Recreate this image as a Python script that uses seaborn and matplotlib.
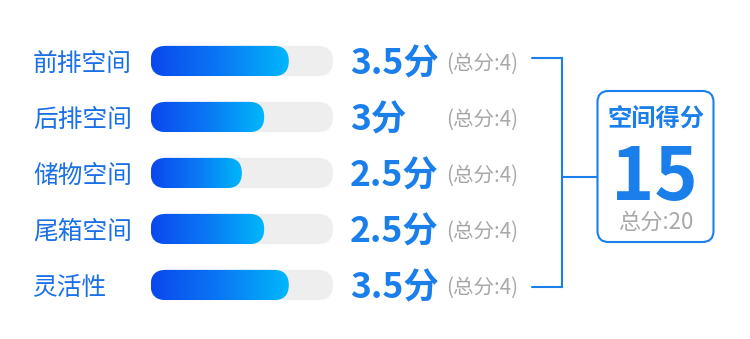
import numpy as np
import pandas as pd
import matplotlib
matplotlib.use("Agg")
import matplotlib.pyplot as plt
import matplotlib.transforms as mtransforms
from matplotlib.patches import FancyBboxPatch
import seaborn as sns

# ---- data ----
categories = ["前排空间", "后排空间", "储物空间", "尾箱空间", "灵活性"]
scores = [3.5, 3, 2.5, 2.5, 3.5]            # printed score
score_labels = ["3.5分", "3分", "2.5分", "2.5分", "3.5分"]
bar_values = [3.03, 2.49, 2.0, 2.49, 3.03]  # bar length as drawn (max 4)
max_score = 4
total_label = "(总分:4)"
box_title = "空间得分"
box_value = "15"
box_total = "总分:20"

sns.set_theme(style="white")
plt.rcParams['font.family'] = ['Noto Sans CJK SC', 'DejaVu Sans']

BLUE = "#1a7fea"
LABEL_BLUE = "#1a70e6"
GRAY_TXT = "#a8a8a8"
TRACK = "#eeeeee"
W, H = 750, 339
fig = plt.figure(figsize=(W / 100, H / 100), dpi=100)
fig.patch.set_facecolor("white")

# overlay axes in pixel coordinates for decorations
ov = fig.add_axes([0, 0, 1, 1])
ov.set_xlim(0, W)
ov.set_ylim(H, 0)
ov.axis("off")

# bar axes: x 0..4 spans pixels 150.7..333, rows centred at 61..285
x0p, x1p = 150.7, 333.0
top_p, bot_p = 33.0, 313.0
ax = fig.add_axes([x0p / W, (H - bot_p) / H, (x1p - x0p) / W, (bot_p - top_p) / H])
ax.set_zorder(2)
ax.patch.set_alpha(0)

df = pd.DataFrame({"cat": categories, "val": bar_values,
                   "track": [max_score] * len(categories)})
sns.barplot(data=df, x="track", y="cat", color=TRACK, width=0.54, ax=ax,
            orient="h")
sns.barplot(data=df, x="val", y="cat", color="#0a4ff0", width=0.54, ax=ax,
            orient="h")
ax.set_xlim(0, max_score)
ax.set_ylim(len(categories) - 0.5, -0.5)
for s in ax.spines.values():
    s.set_visible(False)
ax.set_xlabel("")
ax.set_ylabel("")
ax.set_xticks([])
ax.tick_params(axis="y", length=0, pad=117.7 * 0.72)
for lab in ax.get_yticklabels():
    lab.set_ha("left")
    lab.set_fontsize(17.8)
    lab.set_color(LABEL_BLUE)

# pixel scales
fig.canvas.draw()
px_x = (x1p - x0p) / max_score
py = (bot_p - top_p) / len(categories)
r_px = 15.0
r = r_px / px_x
ma = px_x / py

cmap = matplotlib.colors.LinearSegmentedColormap.from_list(
    "g", ["#0a48ee", "#0a78f4", "#00b8fa"])
grad = np.linspace(0, 1, 256).reshape(1, -1)

rects = list(ax.patches)
n = len(categories)
for k, rect in enumerate(rects):
    x, y, w, h = rect.get_x(), rect.get_y(), rect.get_width(), rect.get_height()
    rect.set_visible(False)
    is_track = k < n
    p = FancyBboxPatch((x, y), w, h,
                       boxstyle=f"round,pad=0,rounding_size={r}",
                       mutation_aspect=ma, linewidth=0,
                       facecolor=TRACK if is_track else "none",
                       zorder=1 if is_track else 2)
    ax.add_patch(p)
    if not is_track:
        im = ax.imshow(grad, cmap=cmap, aspect="auto",
                       extent=(x, x + w, y + h, y), zorder=3,
                       interpolation="bilinear")
        im.set_clip_path(p)
ax.set_xlim(0, max_score)
ax.set_ylim(len(categories) - 0.5, -0.5)

# score texts
blend = mtransforms.blended_transform_factory(ov.transData, ax.transData)
for i, (lab, s) in enumerate(zip(score_labels, scores)):
    ax.text(350, i, lab, transform=blend, ha="left", va="center_baseline",
            fontsize=25.5, fontweight="bold", color=BLUE, clip_on=False)
    ax.text(446, i, total_label, transform=blend, ha="left",
            va="center_baseline", fontsize=14.8, color=GRAY_TXT, clip_on=False)

# bracket
lw = 1.5
ov.plot([531.7, 562, 562, 531.7], [58.3, 58.3, 287.3, 287.3], color=BLUE,
        lw=lw, solid_joinstyle="miter")
ov.plot([562, 597], [176.7, 176.7], color=BLUE, lw=lw)

# score box
box = FancyBboxPatch((597.5, 91), 116, 151,
                     boxstyle="round,pad=0,rounding_size=11",
                     facecolor="white", edgecolor=BLUE, linewidth=lw)
ov.add_patch(box)
ov.text(656, 117.5, box_title, ha="center", va="center_baseline",
        fontsize=17.5, fontweight="bold", color=BLUE)
ov.text(654, 200, box_value, ha="center", va="baseline",
        fontsize=53, fontweight="bold", color=BLUE)
ov.text(656, 229, box_total, ha="center", va="baseline",
        fontsize=16, color=GRAY_TXT)

fig.savefig("out.png", dpi=100, facecolor="white")
